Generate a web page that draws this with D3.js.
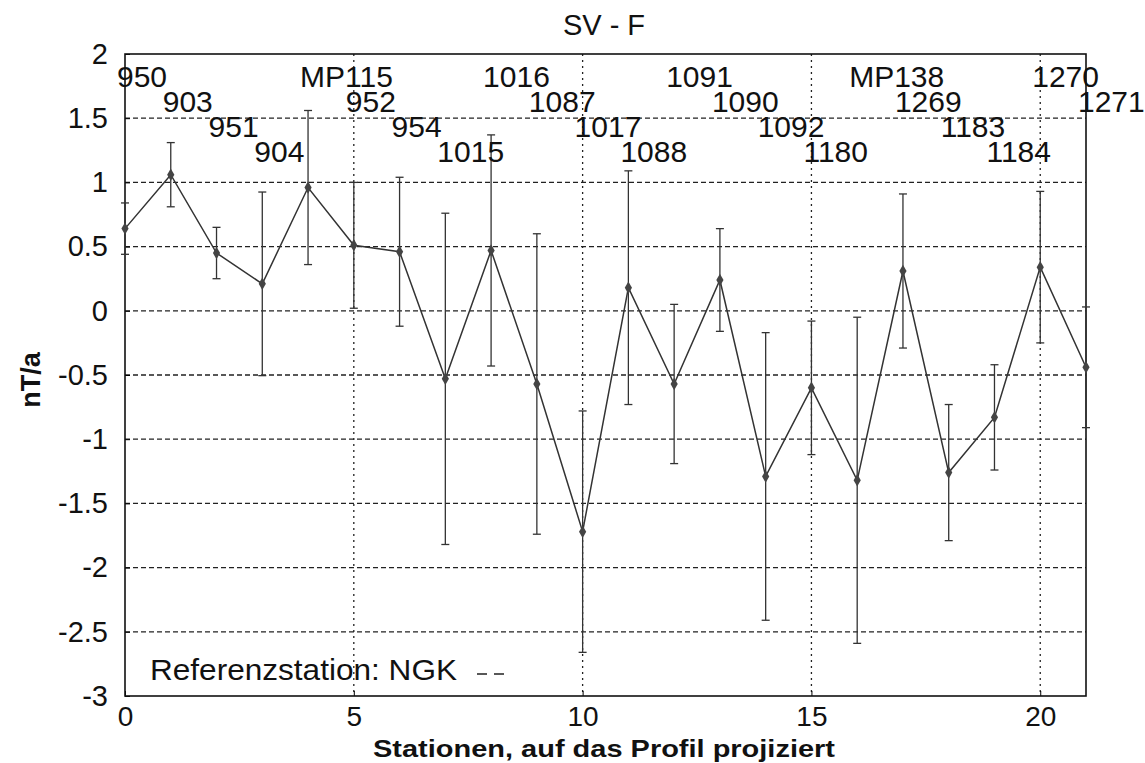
<!DOCTYPE html>
<html>
<head>
<meta charset="utf-8">
<script src="https://cdn.jsdelivr.net/npm/d3@7"></script>
<style>
  body { margin: 0; background: #fff; }
  text { font-family: "Liberation Sans", Arial, sans-serif; fill: #111; }
</style>
</head>
<body>
<svg width="1145" height="763"></svg>
<script>
// station names along the profile (x = 0..21)
var stations = ["950","903","951","904","MP115","952","954","1015","1016","1087","1017",
                "1088","1091","1090","1092","1180","MP138","1269","1183","1184","1270","1271"];
// secular variation of F, nT/a
var sv  = [0.64, 1.06, 0.45, 0.21, 0.96, 0.51, 0.46, -0.53, 0.47, -0.57, -1.72,
           0.18, -0.57, 0.24, -1.29, -0.60, -1.32, 0.31, -1.26, -0.83, 0.34, -0.44];
// error (half length of bar)
var err = [0.20, 0.25, 0.20, 0.715, 0.60, 0.49, 0.58, 1.29, 0.90, 1.17, 0.94,
           0.91, 0.62, 0.40, 1.12, 0.52, 1.27, 0.60, 0.53, 0.41, 0.59, 0.47];
var xTicks = [0, 5, 10, 15, 20];
var yTicks = [2, 1.5, 1, 0.5, 0, -0.5, -1, -1.5, -2, -2.5, -3];

var svg = d3.select("svg");
// plot box (note: "top" is reserved on window, so use other names)
var pLeft = 125, pRight = 1086, pTop = 54, pBottom = 696;

var x = d3.scaleLinear().domain([0, 21]).range([pLeft, pRight]);
var y = d3.scaleLinear().domain([-3, 2]).range([pBottom, pTop]);

// grid
svg.append("g").selectAll("line")
  .data(yTicks.filter(function(d) { return d > -3 && d < 2; }))
  .enter().append("line")
    .attr("x1", pLeft).attr("x2", pRight)
    .attr("y1", function(d) { return y(d); }).attr("y2", function(d) { return y(d); })
    .attr("stroke", "#222").attr("stroke-width", 1.3)
    .attr("stroke-dasharray", "5,3");

svg.append("g").selectAll("line")
  .data(xTicks.filter(function(d) { return d > 0; }))
  .enter().append("line")
    .attr("x1", function(d) { return x(d); }).attr("x2", function(d) { return x(d); })
    .attr("y1", pTop).attr("y2", pBottom)
    .attr("stroke", "#222").attr("stroke-width", 1.3)
    .attr("stroke-dasharray", "2,4");

// axes
var yAxis = d3.axisLeft(y).tickValues(yTicks).tickSize(-5).tickPadding(17)
  .tickFormat(function(d) { return d; });
var gy = svg.append("g").attr("transform", "translate(" + pLeft + ",0)").call(yAxis);
gy.select(".domain").remove();
gy.selectAll("text").style("font-size", "29px").attr("fill", "#111");

var xAxis = d3.axisBottom(x).tickValues(xTicks).tickSize(-5).tickPadding(10);
var gx = svg.append("g").attr("transform", "translate(0," + pBottom + ")").call(xAxis);
gx.select(".domain").remove();
gx.selectAll("text").style("font-size", "28px").attr("fill", "#111");

// frame
svg.append("rect")
  .attr("x", pLeft).attr("y", pTop)
  .attr("width", pRight - pLeft).attr("height", pBottom - pTop)
  .attr("fill", "none").attr("stroke", "#111").attr("stroke-width", 1.6);

// error bars
var eb = svg.append("g").attr("stroke", "#333").attr("stroke-width", 1.3);
sv.forEach(function(v, i) {
  eb.append("line")
    .attr("x1", x(i)).attr("x2", x(i))
    .attr("y1", y(v + err[i])).attr("y2", y(v - err[i]));
  [v + err[i], v - err[i]].forEach(function(e) {
    eb.append("line")
      .attr("x1", x(i) - 4).attr("x2", x(i) + 4)
      .attr("y1", y(e)).attr("y2", y(e));
  });
});

// line
var line = d3.line()
  .x(function(d, i) { return x(i); })
  .y(function(d) { return y(d); });
svg.append("path")
  .datum(sv)
  .attr("d", line)
  .attr("fill", "none")
  .attr("stroke", "#333")
  .attr("stroke-width", 1.5);

// diamonds
svg.append("g").selectAll("path")
  .data(sv)
  .enter().append("path")
    .attr("d", d3.symbol().type(d3.symbolDiamond).size(45))
    .attr("transform", function(d, i) { return "translate(" + x(i) + "," + y(d) + ")"; })
    .attr("fill", "#444");

// station labels, staggered in four rows
svg.append("g").selectAll("text")
  .data(stations)
  .enter().append("text")
    .attr("x", function(d, i) { return x(i) - 8; })
    .attr("y", function(d, i) { return y(1.745 - 0.195 * (i % 4)); })
    .style("font-size", "30px")
    .text(function(d) { return d; });

// title and axis labels
svg.append("text")
  .attr("x", 604).attr("y", 35)
  .attr("text-anchor", "middle")
  .style("font-size", "29px")
  .text("SV - F");

svg.append("text")
  .attr("transform", "translate(40,380) rotate(-90)")
  .attr("text-anchor", "middle")
  .style("font-size", "27px")
  .style("font-weight", "bold")
  .text("nT/a");

svg.append("text")
  .attr("x", 604).attr("y", 757)
  .attr("text-anchor", "middle")
  .attr("textLength", 462)
  .attr("lengthAdjust", "spacingAndGlyphs")
  .style("font-size", "24px")
  .style("font-weight", "bold")
  .text("Stationen, auf das Profil projiziert");

// reference station note
svg.append("text")
  .attr("x", 150).attr("y", 680)
  .attr("textLength", 307)
  .attr("lengthAdjust", "spacingAndGlyphs")
  .style("font-size", "30px")
  .text("Referenzstation: NGK");

svg.append("line")
  .attr("x1", 477).attr("x2", 505)
  .attr("y1", 674).attr("y2", 674)
  .attr("stroke", "#222").attr("stroke-width", 1.5)
  .attr("stroke-dasharray", "10,7");
</script>
</body>
</html>
